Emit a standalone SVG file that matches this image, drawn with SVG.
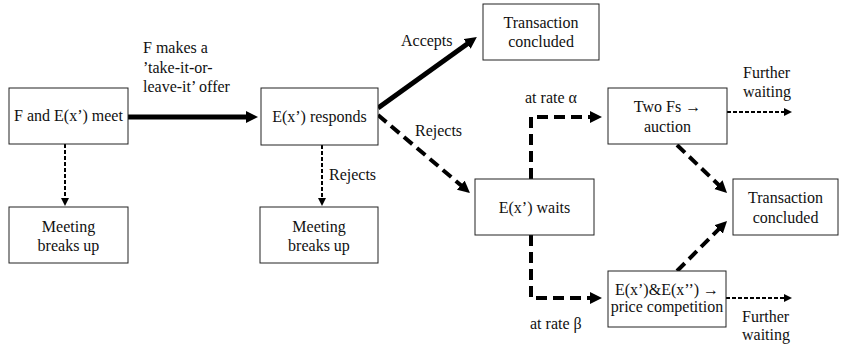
<svg xmlns="http://www.w3.org/2000/svg" width="842" height="351" viewBox="0 0 842 351" font-family="'Liberation Serif', 'Times New Roman', serif" font-size="16">
<style>
  .box { fill: #fff; stroke: #222; stroke-width: 1; }
  .c { text-anchor: middle; }
  .thick { fill: none; stroke: #000; stroke-width: 5; }
  .thickd { fill: none; stroke: #000; stroke-width: 4; stroke-dasharray: 11 6; }
  .thin { fill: none; stroke: #000; stroke-width: 2; stroke-dasharray: 4 2; }
</style>
<defs>
  <marker id="big" markerUnits="userSpaceOnUse" markerWidth="13" markerHeight="13" refX="6" refY="6" orient="auto">
    <path d="M0,0 L12,6 L0,12 z" fill="#000"/>
  </marker>
  <marker id="small" markerUnits="userSpaceOnUse" markerWidth="9" markerHeight="9" refX="4" refY="4" orient="auto">
    <path d="M0,0 L8,4 L0,8 z" fill="#000"/>
  </marker>
</defs>

<g id="connectors" fill="#111">
  <line class="thick" x1="128" y1="117" x2="252" y2="117" marker-end="url(#big)"/>
  <line class="thick" x1="378" y1="108" x2="472" y2="40.5" stroke-width="4" marker-end="url(#big)"/>
  <line class="thickd" x1="378" y1="115" x2="465.4" y2="189.1" marker-end="url(#big)"/>
  <line class="thin" x1="65" y1="144" x2="65" y2="202" marker-end="url(#small)"/>
  <line class="thin" x1="322" y1="145" x2="322" y2="202" marker-end="url(#small)"/>
  <path class="thickd" d="M531,179 V117 H596" marker-end="url(#big)"/>
  <path class="thickd" d="M531,235 V298 H596" marker-end="url(#big)"/>
  <line class="thickd" x1="677" y1="145" x2="722.7" y2="188.8" marker-end="url(#big)"/>
  <line class="thickd" x1="677" y1="271" x2="722.8" y2="225.2" marker-end="url(#big)"/>
  <line class="thin" x1="727" y1="112" x2="788" y2="112" stroke-dasharray="5 3" marker-end="url(#small)"/>
  <line class="thin" x1="726" y1="298" x2="788" y2="298" stroke-dasharray="5 3" marker-end="url(#small)"/>
  <text x="143" y="53">F makes a</text>
  <text x="143" y="73">’take-it-or-</text>
  <text x="143" y="92">leave-it’ offer</text>
  <text x="401" y="46">Accepts</text>
  <text x="415" y="136">Rejects</text>
  <text x="329" y="180">Rejects</text>
  <text x="525" y="103">at rate α</text>
  <text x="530" y="329">at rate β</text>
  <text x="743" y="78">Further</text>
  <text x="743" y="97">waiting</text>
  <text x="742" y="322">Further</text>
  <text x="742" y="340">waiting</text>
</g>

<g fill="#111">
<g id="meet">
  <rect class="box" x="9" y="88" width="119" height="56"/>
  <text class="c" x="68.5" y="121">F and E(x’) meet</text>
</g>
<g id="responds">
  <rect class="box" x="261" y="88" width="117" height="57"/>
  <text class="c" x="319.5" y="122">E(x’) responds</text>
</g>
<g id="breakup1">
  <rect class="box" x="9" y="207" width="119" height="56"/>
  <text class="c" x="68.5" y="232">Meeting</text>
  <text class="c" x="68.5" y="251">breaks up</text>
</g>
<g id="breakup2">
  <rect class="box" x="260" y="207" width="118" height="56"/>
  <text class="c" x="319" y="232">Meeting</text>
  <text class="c" x="319" y="251">breaks up</text>
</g>
<g id="concluded1">
  <rect class="box" x="483" y="4" width="116" height="56"/>
  <text class="c" x="541" y="28">Transaction</text>
  <text class="c" x="541" y="47">concluded</text>
</g>
<g id="waits">
  <rect class="box" x="475" y="179" width="119" height="56"/>
  <text class="c" x="534.5" y="213">E(x’) waits</text>
</g>
<g id="auction">
  <rect class="box" x="608" y="88" width="119" height="56"/>
  <text class="c" x="667.5" y="112">Two Fs →</text>
  <text class="c" x="667.5" y="132">auction</text>
</g>
<g id="concluded2">
  <rect class="box" x="733" y="179" width="105" height="56"/>
  <text class="c" x="785.5" y="203">Transaction</text>
  <text class="c" x="785.5" y="223">concluded</text>
</g>
<g id="pricecomp">
  <rect class="box" x="608" y="271" width="118" height="56"/>
  <text class="c" x="667" y="295">E(x’)&amp;E(x’’) →</text>
  <text class="c" x="667" y="312">price competition</text>
</g>
</g>
</svg>
